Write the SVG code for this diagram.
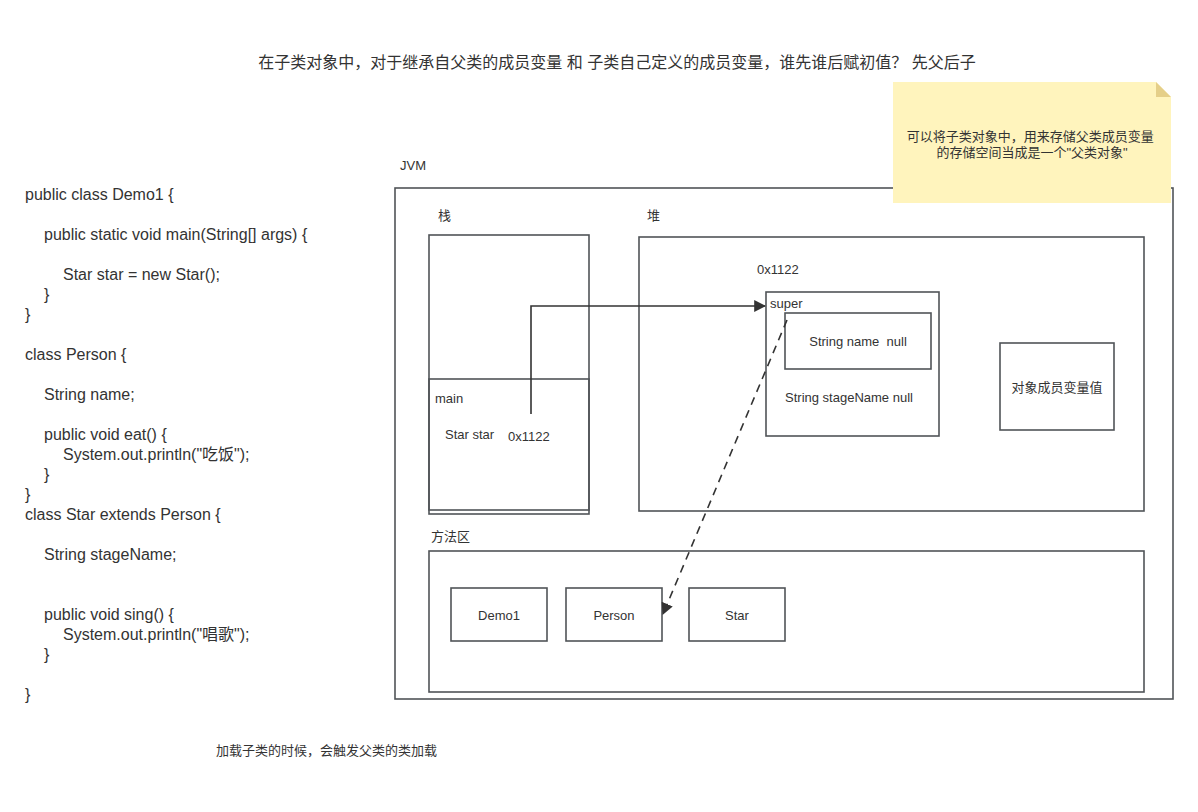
<svg xmlns="http://www.w3.org/2000/svg" width="1198" height="812" viewBox="0 0 1198 812">
  <defs>
    <style>
      .t { font-family: "Liberation Sans", "Noto Sans CJK SC", sans-serif; fill: #333333; }
      .code { font-size: 16px; }
      .lbl { font-size: 13px; }
      .box { fill: none; stroke: #505458; stroke-width: 1.6; }
      .link { fill: none; stroke: #333333; stroke-width: 1.6; }
    </style>
    <marker id="arrowBig" viewBox="0 0 10 10" refX="9" refY="5" markerWidth="12" markerHeight="12" orient="auto" markerUnits="userSpaceOnUse">
      <path d="M0,0 L10,5 L0,10 Z" fill="#333333"/>
    </marker>
  </defs>
  <rect width="1198" height="812" fill="#ffffff"/>

  <!-- heading -->
  <text id="title" class="t" x="617" y="68" font-size="16" text-anchor="middle">在子类对象中，对于继承自父类的成员变量 和 子类自己定义的成员变量，谁先谁后赋初值？ 先父后子</text>

  <!-- source code listing -->
  <g id="code" class="t code">
    <text x="25" y="200">public class Demo1 {</text>
    <text x="44" y="240">public static void main(String[] args) {</text>
    <text x="63" y="280">Star star = new Star();</text>
    <text x="44" y="300">}</text>
    <text x="25" y="320">}</text>
    <text x="25" y="360">class Person {</text>
    <text x="44" y="400">String name;</text>
    <text x="44" y="440">public void eat() {</text>
    <text x="63" y="460">System.out.println("吃饭");</text>
    <text x="44" y="480">}</text>
    <text x="25" y="500">}</text>
    <text x="25" y="520">class Star extends Person {</text>
    <text x="44" y="560">String stageName;</text>
    <text x="44" y="620">public void sing() {</text>
    <text x="63" y="640">System.out.println("唱歌");</text>
    <text x="44" y="660">}</text>
    <text x="25" y="700">}</text>
  </g>

  <!-- JVM frame -->
  <g id="jvm">
    <rect class="box" x="395" y="188" width="778" height="511"/>
    <text class="t lbl" x="400" y="170">JVM</text>
  </g>

  <!-- stack -->
  <g id="stack">
    <text class="t lbl" x="438" y="220">栈</text>
    <rect class="box" x="429" y="235" width="160" height="279"/>
  </g>
  <g id="main-frame">
    <rect class="box" x="429" y="379" width="160" height="131"/>
    <text class="t lbl" x="435" y="403">main</text>
    <text class="t lbl" x="445" y="439">Star star</text>
    <text class="t lbl" x="508" y="441">0x1122</text>
  </g>

  <!-- heap -->
  <g id="heap">
    <text class="t lbl" x="647" y="220">堆</text>
    <rect class="box" x="639" y="237" width="505" height="274"/>
  </g>
  <g id="star-object">
    <text class="t lbl" x="757" y="274">0x1122</text>
    <rect class="box" x="766" y="292" width="173" height="144"/>
    <text class="t lbl" x="770" y="308">super</text>
    <text class="t lbl" x="849" y="402" text-anchor="middle">String stageName null</text>
  </g>
  <g id="super-part">
    <rect class="box" x="785" y="313" width="146" height="56"/>
    <text class="t lbl" x="858" y="346" text-anchor="middle">String name&#160; null</text>
  </g>
  <g id="member-values">
    <rect class="box" x="1000" y="343" width="114" height="87"/>
    <text class="t lbl" x="1057" y="392" text-anchor="middle">对象成员变量值</text>
  </g>

  <!-- method area -->
  <g id="method-area">
    <text class="t lbl" x="431" y="541">方法区</text>
    <rect class="box" x="429" y="551" width="715" height="141"/>
  </g>
  <g id="cls-demo1">
    <rect class="box" x="451" y="588" width="96" height="53"/>
    <text class="t lbl" x="499" y="620" text-anchor="middle">Demo1</text>
  </g>
  <g id="cls-person">
    <rect class="box" x="566" y="588" width="96" height="53"/>
    <text class="t lbl" x="614" y="620" text-anchor="middle">Person</text>
  </g>
  <g id="cls-star">
    <rect class="box" x="689" y="588" width="96" height="53"/>
    <text class="t lbl" x="737" y="620" text-anchor="middle">Star</text>
  </g>

  <!-- connectors -->
  <g id="connectors">
    <path class="link" d="M531,414 L531,306 L765,306" marker-end="url(#arrowBig)"/>
    <path class="link" d="M787,320 L663,614" stroke-dasharray="8,6" marker-end="url(#arrowBig)"/>
  </g>

  <!-- note -->
  <g id="note">
    <path d="M893,82 L1156,82 L1171,97 L1171,203 L893,203 Z" fill="#fff4bd"/>
    <path d="M1156,82 L1171,97 L1156,97 Z" fill="#e5cf89"/>
    <text class="t" font-size="13" text-anchor="middle">
      <tspan x="1032" y="141">可以将子类对象中，用来存储父类成员变量</tspan>
      <tspan x="1032" y="157">的存储空间当成是一个"父类对象"</tspan>
    </text>
  </g>

  <!-- footnote -->
  <text id="footnote" class="t" x="216" y="755" font-size="13">加载子类的时候，会触发父类的类加载</text>
</svg>
